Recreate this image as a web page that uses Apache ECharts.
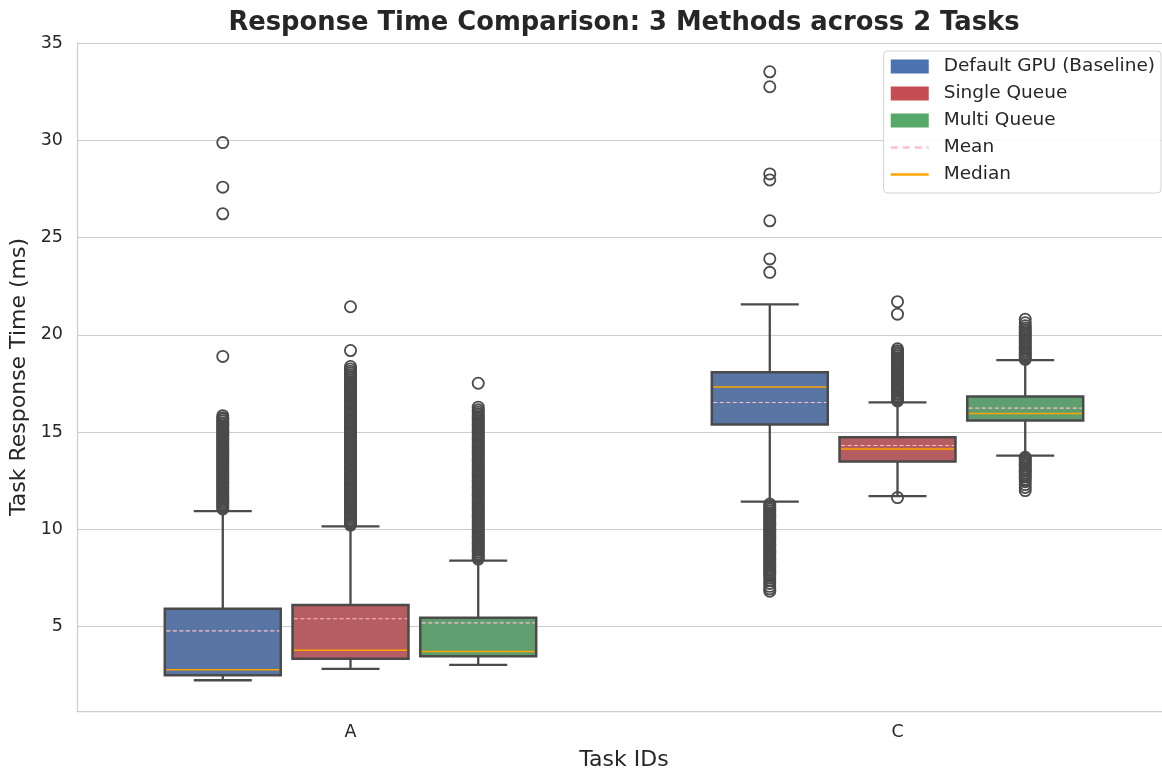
<!DOCTYPE html>
<html>
<head>
<meta charset="utf-8">
<script src="https://cdn.jsdelivr.net/npm/echarts@6/dist/echarts.min.js"></script>
<style>html,body{margin:0;padding:0;background:#fff}#chart{width:1162px;height:770px}</style>
</head>
<body>
<div id="chart"></div>
<script>
// ---------------- data ----------------
const categories = ['A', 'C'];
const methods = ['Default GPU (Baseline)', 'Single Queue', 'Multi Queue'];
const yTicks = [5, 10, 15, 20, 25, 30, 35];

// per task: [lower whisker, Q1, median, Q3, upper whisker]
const baselineBoxes = [[2.24, 2.50, 2.78, 5.91, 10.94], [11.42, 15.39, 17.31, 18.07, 21.56]];
const singleBoxes   = [[2.83, 3.34, 3.78, 6.11, 10.15], [11.71, 13.49, 14.13, 14.73, 16.53]];
const multiBoxes    = [[3.03, 3.47, 3.72, 5.45, 8.39],  [13.79, 15.60, 15.96, 16.83, 18.70]];

// per task means
const baselineMeans = [4.78, 16.52];
const singleMeans   = [5.40, 14.31];
const multiMeans    = [5.19, 16.23];

// outliers per task
const baselineOutliersA = [29.88, 27.59, 26.22, 18.89, 15.84, 15.73, 15.66, 15.57, 15.46, 15.39, 15.3, 15.21, 15.12, 15.05, 14.95, 14.87, 14.79, 14.7, 14.61, 14.53, 14.44, 14.36, 14.27, 14.19, 14.1, 14.02, 13.93, 13.85, 13.76, 13.68, 13.59, 13.51, 13.42, 13.34, 13.25, 13.17, 13.08, 13.0, 12.91, 12.83, 12.74, 12.66, 12.57, 12.49, 12.4, 12.32, 12.23, 12.15, 12.06, 11.98, 11.89, 11.81, 11.72, 11.64, 11.55, 11.47, 11.38, 11.3, 11.21, 11.13, 11.05];
const baselineOutliersC = [33.52, 32.75, 28.27, 27.96, 25.86, 23.9, 23.21, 11.3, 11.21, 11.12, 11.03, 10.94, 10.85, 10.76, 10.67, 10.58, 10.49, 10.4, 10.31, 10.22, 10.13, 10.04, 9.95, 9.86, 9.77, 9.68, 9.59, 9.5, 9.41, 9.32, 9.23, 9.14, 9.05, 8.96, 8.87, 8.78, 8.69, 8.6, 8.51, 8.42, 8.33, 8.24, 8.15, 8.06, 7.97, 7.88, 7.79, 7.7, 7.61, 7.5, 7.36, 7.22, 7.07, 6.94, 6.82];
const singleOutliersA = [21.44, 19.19, 18.37, 18.24, 18.13, 18.04, 17.95, 17.86, 17.77, 17.68, 17.59, 17.5, 17.41, 17.32, 17.23, 17.14, 17.05, 16.96, 16.87, 16.78, 16.69, 16.6, 16.51, 16.42, 16.33, 16.24, 16.15, 16.06, 15.97, 15.88, 15.79, 15.7, 15.61, 15.52, 15.43, 15.34, 15.25, 15.16, 15.07, 14.98, 14.89, 14.8, 14.71, 14.62, 14.53, 14.44, 14.35, 14.26, 14.17, 14.08, 13.99, 13.9, 13.81, 13.72, 13.63, 13.54, 13.45, 13.36, 13.27, 13.18, 13.09, 13.0, 12.91, 12.82, 12.73, 12.64, 12.55, 12.46, 12.37, 12.28, 12.19, 12.1, 12.01, 11.92, 11.83, 11.74, 11.65, 11.56, 11.47, 11.38, 11.29, 11.2, 11.11, 11.02, 10.93, 10.84, 10.75, 10.66, 10.57, 10.48, 10.39, 10.3, 10.22];
const singleOutliersC = [21.7, 21.06, 19.28, 19.18, 19.09, 19.0, 18.91, 18.82, 18.73, 18.64, 18.55, 18.46, 18.37, 18.28, 18.19, 18.1, 18.01, 17.92, 17.83, 17.74, 17.65, 17.56, 17.47, 17.38, 17.29, 17.2, 17.11, 17.02, 16.93, 16.84, 16.75, 16.66, 16.6, 11.63];
const multiOutliersA = [17.51, 16.28, 16.14, 16.03, 15.94, 15.85, 15.76, 15.67, 15.58, 15.49, 15.4, 15.31, 15.22, 15.13, 15.04, 14.95, 14.86, 14.77, 14.68, 14.59, 14.5, 14.41, 14.32, 14.23, 14.14, 14.05, 13.96, 13.87, 13.78, 13.69, 13.6, 13.51, 13.42, 13.33, 13.24, 13.15, 13.06, 12.97, 12.88, 12.79, 12.7, 12.61, 12.52, 12.43, 12.34, 12.25, 12.16, 12.07, 11.98, 11.89, 11.8, 11.71, 11.62, 11.53, 11.44, 11.35, 11.26, 11.17, 11.08, 10.99, 10.9, 10.81, 10.72, 10.63, 10.54, 10.45, 10.36, 10.27, 10.18, 10.09, 10.0, 9.91, 9.82, 9.73, 9.64, 9.55, 9.46, 9.37, 9.28, 9.19, 9.1, 9.01, 8.92, 8.83, 8.74, 8.65, 8.56, 8.47];
const multiOutliersC = [20.8, 20.62, 20.47, 20.35, 20.26, 20.17, 20.08, 19.99, 19.9, 19.81, 19.72, 19.63, 19.54, 19.45, 19.36, 19.27, 19.18, 19.09, 19.0, 18.91, 18.82, 18.74, 13.7, 13.61, 13.52, 13.43, 13.34, 13.25, 13.16, 13.07, 12.98, 12.89, 12.8, 12.7, 12.58, 12.45, 12.3, 12.15, 11.99];

// ---------------- styling ----------------
const legendColors = ['#4c72b0', '#c44e52', '#55a868'];
const boxFills = ['#5975a4', '#b55d60', '#5f9e6e'];
const EDGE = '#4a4a4a';
const MEAN_COLOR = '#ffc0cb';
const MEDIAN_COLOR = '#ffa500';
const HUE_OFFSET = [-0.2335, 0, 0.2335];   // dodge, fraction of band
const BOX_W = 0.212;                       // box width, fraction of band
const FONT = 'DejaVu Sans';
const TEXT = '#262626';

const allBoxes = [baselineBoxes, singleBoxes, multiBoxes];
const allMeans = [baselineMeans, singleMeans, multiMeans];
const allOutliers = [[baselineOutliersA, baselineOutliersC], [singleOutliersA, singleOutliersC], [multiOutliersA, multiOutliersC]];

function boxRenderer(h) {
  return function (params, api) {
    const cat = api.value(0);
    const band = api.size([1, 0])[0];
    const cx = api.coord([cat, api.value(3)])[0] + HUE_OFFSET[h] * band;
    const hw = BOX_W * band / 2;
    const Y = k => api.coord([cat, api.value(k)])[1];
    const lo = Y(1), q1 = Y(2), med = Y(3), q3 = Y(4), hi = Y(5), mean = Y(6);
    const ls = { stroke: EDGE, lineWidth: 2.3 };
    return {
      type: 'group',
      children: [
        { type: 'line', shape: { x1: cx, y1: q1, x2: cx, y2: lo }, style: ls },
        { type: 'line', shape: { x1: cx, y1: q3, x2: cx, y2: hi }, style: ls },
        { type: 'line', shape: { x1: cx - hw / 2, y1: lo, x2: cx + hw / 2, y2: lo }, style: ls },
        { type: 'line', shape: { x1: cx - hw / 2, y1: hi, x2: cx + hw / 2, y2: hi }, style: ls },
        { type: 'rect', shape: { x: cx - hw, y: q3, width: 2 * hw, height: q1 - q3 }, style: { fill: boxFills[h], stroke: EDGE, lineWidth: 2.5 } },
        { type: 'line', shape: { x1: cx - hw + 1.5, y1: med, x2: cx + hw - 1.5, y2: med }, style: { stroke: MEDIAN_COLOR, lineWidth: 1.5 } },
        { type: 'line', shape: { x1: cx - hw + 1.5, y1: mean, x2: cx + hw - 1.5, y2: mean }, style: { stroke: MEAN_COLOR, lineWidth: 1.1, lineDash: [4, 2.5] } }
      ]
    };
  };
}

function outlierRenderer(h) {
  return function (params, api) {
    const cat = api.value(0);
    const band = api.size([1, 0])[0];
    const p = api.coord([cat, api.value(1)]);
    return {
      type: 'circle',
      shape: { cx: p[0] + HUE_OFFSET[h] * band, cy: p[1], r: 5.6 },
      style: { fill: 'none', stroke: EDGE, lineWidth: 1.8 }
    };
  };
}

const series = [];
methods.forEach((m, h) => {
  series.push({
    name: m,
    type: 'custom',
    renderItem: boxRenderer(h),
    itemStyle: { color: legendColors[h] },
    encode: { x: 0, y: [1, 2, 3, 4, 5, 6] },
    data: categories.map((c, i) => [i].concat(allBoxes[h][i], [allMeans[h][i]])),
    silent: true,
    z: 2
  });
});
methods.forEach((m, h) => {
  const d = [];
  categories.forEach((c, i) => allOutliers[h][i].forEach(v => d.push([i, v])));
  series.push({
    name: m + ' outliers',
    type: 'custom',
    renderItem: outlierRenderer(h),
    encode: { x: 0, y: 1 },
    data: d,
    silent: true,
    z: 3
  });
});
series.push({ name: 'Mean', type: 'line', data: [], symbol: 'none', itemStyle: { color: MEAN_COLOR }, lineStyle: { color: MEAN_COLOR, width: 2.4, type: [7, 5] } });
series.push({ name: 'Median', type: 'line', data: [], symbol: 'none', itemStyle: { color: MEDIAN_COLOR }, lineStyle: { color: MEDIAN_COLOR, width: 2.4 } });

const hiddenSymbol = { color: 'rgba(0,0,0,0)', borderColor: 'rgba(0,0,0,0)', borderWidth: 0 };

const chart = echarts.init(document.getElementById('chart'), null, { renderer: 'canvas' });
chart.setOption({
  animation: false,
  backgroundColor: '#ffffff',
  title: {
    text: 'Response Time Comparison: 3 Methods across 2 Tasks',
    left: 619, top: 5, textAlign: 'center',
    textStyle: { fontFamily: FONT, fontWeight: 'bold', fontSize: 25.8, color: TEXT }
  },
  grid: { left: 77, top: 43, width: 1094, height: 668, outerBoundsMode: 'none', containLabel: false },
  legend: {
    orient: 'vertical', right: 1, top: 51,
    data: methods.map(m => ({ name: m, icon: 'rect' })).concat([
      { name: 'Mean', itemStyle: hiddenSymbol, lineStyle: { width: 2.4 } },
      { name: 'Median', itemStyle: hiddenSymbol, lineStyle: { width: 2.4 } }
    ]),
    itemWidth: 38, itemHeight: 14, itemGap: 8,
    padding: [6, 6, 9, 6],
    backgroundColor: 'rgba(255,255,255,0.85)', borderColor: '#d4d4d4', borderWidth: 1, borderRadius: 4,
    selectedMode: false,
    textStyle: { fontFamily: FONT, fontSize: 18.5, color: TEXT, lineHeight: 18, padding: [0, 0, 0, 10] }
  },
  xAxis: {
    type: 'category', data: categories,
    axisLine: { show: true, lineStyle: { color: '#cccccc', width: 1.25 } },
    axisTick: { show: false },
    splitLine: { show: false },
    axisLabel: { fontFamily: FONT, fontSize: 17.5, color: TEXT, margin: 12 },
    name: 'Task IDs', nameLocation: 'middle', nameGap: 38,
    nameTextStyle: { fontFamily: FONT, fontSize: 22, color: TEXT }
  },
  yAxis: {
    type: 'value', min: 0.66, max: 35,
    axisLine: { show: true, lineStyle: { color: '#cccccc', width: 1.25 } },
    axisTick: { show: false, customValues: yTicks },
    axisLabel: { customValues: yTicks, fontFamily: FONT, fontSize: 17.5, color: TEXT, margin: 14 },
    splitLine: { show: true, lineStyle: { color: '#cccccc', width: 1 } },
    name: 'Task Response Time (ms)', nameLocation: 'middle', nameGap: 46,
    nameTextStyle: { fontFamily: FONT, fontSize: 22, color: TEXT }
  },
  series: series
});
</script>
</body>
</html>
